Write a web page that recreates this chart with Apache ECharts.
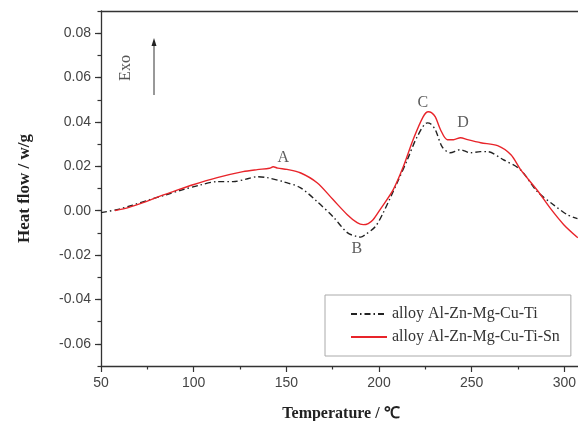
<!DOCTYPE html>
<html><head><meta charset="utf-8">
<script src="https://cdn.jsdelivr.net/npm/echarts@6/dist/echarts.min.js"></script>
<style>html,body{margin:0;padding:0;background:#fff}#c{width:578px;height:421px}</style>
</head><body><div id="c"></div>
<script>
// Series: alloy Al-Zn-Mg-Cu-Ti (black dash-dot)
const tempTi = [50, 58.6, 67.1, 76.4, 85.2, 94.3, 103.2, 112.7, 121.3, 128.3, 134.3, 139.6, 148.2, 157.5, 166.6, 175.2, 182.9, 188.2, 190.1, 192.6, 198, 202.3, 209.8, 215.3, 220.6, 226.1, 227.8, 230.4, 234.1, 238.4, 243.8, 249.3, 254.7, 258.5, 267, 276.3, 285.4, 294.1, 301.6, 307.1];
const flowTi = [-0.0009, 0.0005, 0.0025, 0.0050, 0.0072, 0.0095, 0.0115, 0.0131, 0.0131, 0.0142, 0.0153, 0.0149, 0.0131, 0.0104, 0.0041, -0.0027, -0.0099, -0.0117, -0.0119, -0.0108, -0.0072, -0.0009, 0.0126, 0.0230, 0.0333, 0.0396, 0.0392, 0.0365, 0.0288, 0.0261, 0.0275, 0.0261, 0.0266, 0.0266, 0.0230, 0.0185, 0.0086, 0.0027, -0.0018, -0.0036];
// Series: alloy Al-Zn-Mg-Cu-Ti-Sn (red)
const tempSn = [57.5, 65.1, 72.7, 80.1, 88.9, 99.7, 112.7, 126.6, 134.3, 140.9, 142.9, 145.4, 150.4, 157.5, 166.6, 175.2, 182.9, 188.2, 191.5, 194.2, 196.8, 200.6, 207.7, 213.1, 218.4, 223.8, 226.6, 228.3, 230.4, 233.2, 236.9, 240.2, 244, 247.8, 254.9, 264, 271.2, 276.4, 285.6, 292.6, 299.7, 307.3];
const flowSn = [0.0000, 0.0015, 0.0036, 0.0060, 0.0086, 0.0117, 0.0149, 0.0176, 0.0185, 0.0191, 0.0198, 0.0192, 0.0186, 0.0171, 0.0126, 0.0050, -0.0018, -0.0054, -0.0063, -0.0058, -0.0041, 0.0005, 0.0095, 0.0198, 0.0320, 0.0423, 0.0446, 0.0442, 0.0423, 0.0365, 0.0320, 0.0320, 0.0329, 0.0320, 0.0306, 0.0293, 0.0252, 0.0185, 0.0090, 0.0009, -0.0063, -0.0122];
// Peak annotations
const peakNames = ['A', 'B', 'C', 'D'];
const peakTemp = [148.4, 188.1, 223.7, 245.3];
const peakFlow = [0.0238, -0.0172, 0.0488, 0.0398];
const seriesNames = ['alloy Al-Zn-Mg-Cu-Ti', 'alloy Al-Zn-Mg-Cu-Ti-Sn'];
const xLabelTicks = [50, 100, 150, 200, 250, 300];

const zip = (a, b) => a.map((v, i) => [v, b[i]]);
const chart = echarts.init(document.getElementById('c'));
const axisColor = '#333';
const X0 = 50, X1 = 309, Y0 = -0.07, Y1 = 0.09;
const gTop = 11, gBottom = 55, gH = 421 - gTop - gBottom;
const pix = v => gTop + (Y1 - v) / (Y1 - Y0) * gH;

chart.setOption({
  animation: false,
  backgroundColor: '#fff',
  grid: [
    { left: 101, right: -3, top: gTop, bottom: gBottom, containLabel: false, outerBoundsMode: 'none' },
    { left: 101, right: -3, top: pix(0.08), bottom: 421 - pix(-0.06), containLabel: false, outerBoundsMode: 'none' }
  ],
  xAxis: [
    {
      type: 'value', min: X0, max: X1, interval: 50, gridIndex: 0, position: 'bottom',
      name: 'Temperature / ℃', nameLocation: 'middle', nameGap: 40,
      nameTextStyle: { fontFamily: 'Liberation Serif', fontWeight: 'bold', fontSize: 16, color: '#222' },
      axisLine: { onZero: false, lineStyle: { color: axisColor, width: 1.3 } },
      axisTick: { length: 6, inside: false, lineStyle: { color: axisColor, width: 1.2 } },
      minorTick: { show: true, splitNumber: 2, length: 3.5, lineStyle: { color: axisColor, width: 1.2 } },
      axisLabel: { fontFamily: 'Liberation Sans', fontSize: 14, color: '#444', margin: 10,
        formatter: v => xLabelTicks.includes(v) ? String(v) : '' },
      splitLine: { show: false }
    },
    {
      type: 'value', min: X0, max: X1, gridIndex: 0, position: 'top',
      axisLine: { show: true, onZero: false, lineStyle: { color: axisColor, width: 1.3 } },
      axisTick: { show: false }, axisLabel: { show: false }, splitLine: { show: false }
    },
    { type: 'value', min: X0, max: X1, gridIndex: 1, show: false }
  ],
  yAxis: [
    {
      type: 'value', min: Y0, max: Y1, interval: 0.01, gridIndex: 0,
      name: 'Heat flow / w/g', nameLocation: 'middle', nameGap: 68,
      nameTextStyle: { fontFamily: 'Liberation Serif', fontWeight: 'bold', fontSize: 17, color: '#222' },
      axisLine: { show: true, onZero: false, lineStyle: { color: axisColor, width: 1.3 } },
      axisTick: { length: 3.5, lineStyle: { color: axisColor, width: 1.2 } },
      axisLabel: { show: false },
      splitLine: { show: false }
    },
    {
      type: 'value', min: -0.06, max: 0.08, interval: 0.02, gridIndex: 1,
      axisLine: { show: false, onZero: false },
      axisTick: { show: true, length: 6, lineStyle: { color: axisColor, width: 1.2 } },
      axisLabel: { fontFamily: 'Liberation Sans', fontSize: 14, color: '#444', margin: 10,
        formatter: v => v.toFixed(2) },
      splitLine: { show: false }
    }
  ],
  legend: {
    orient: 'vertical', left: 325, top: 295,
    padding: [11, 11, 11, 25], itemGap: 7, itemWidth: 36, itemHeight: 14,
    borderColor: '#aaa', borderWidth: 1, backgroundColor: '#fff',
    itemStyle: { opacity: 0 },
    textStyle: { fontFamily: 'Liberation Serif', fontSize: 16, color: '#333' },
    data: seriesNames
  },
  series: [
    {
      name: seriesNames[0], type: 'line', xAxisIndex: 0, yAxisIndex: 0,
      data: zip(tempTi, flowTi), smooth: 0.3, symbol: 'none',
      lineStyle: { color: '#222', width: 1.4, type: [6, 3, 1.5, 3] },
      itemStyle: { color: '#222' }
    },
    {
      name: seriesNames[1], type: 'line', xAxisIndex: 0, yAxisIndex: 0,
      data: zip(tempSn, flowSn), smooth: 0.3, symbol: 'none',
      lineStyle: { color: '#e8242a', width: 1.4 },
      itemStyle: { color: '#e8242a' }
    },
    {
      type: 'scatter', xAxisIndex: 0, yAxisIndex: 0, symbolSize: 0, silent: true,
      data: peakNames.map((n, i) => ({ name: n, value: [peakTemp[i], peakFlow[i]] })),
      label: { show: true, position: 'inside', formatter: p => p.name,
        fontFamily: 'Liberation Serif', fontSize: 16, color: '#333' }
    }
  ],
  graphic: [
    { type: 'text', x: 126, y: 68, rotation: Math.PI / 2,
      style: { text: 'Exo', fontFamily: 'Liberation Serif', fontSize: 16, fill: '#555', align: 'center', verticalAlign: 'middle' } },
    { type: 'line', shape: { x1: 154, y1: 95, x2: 154, y2: 44 }, style: { stroke: '#333', lineWidth: 1 } },
    { type: 'polygon', shape: { points: [[154, 38], [151.5, 46], [156.5, 46]] }, style: { fill: '#222' } }
  ]
});
</script></body></html>
